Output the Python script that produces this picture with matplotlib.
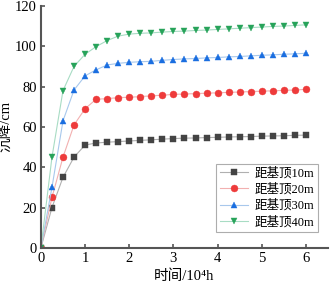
import matplotlib
matplotlib.use("Agg")
import matplotlib.pyplot as plt
import numpy as np

t = [0, 0.25, 0.5, 0.75, 1.0, 1.25, 1.5, 1.75, 2.0, 2.25, 2.5, 2.75, 3.0,
     3.25, 3.5, 3.75, 4.0, 4.25, 4.5, 4.75, 5.0, 5.25, 5.5, 5.75, 6.0]
s10 = [0, 20, 35, 45, 51, 52, 52.4, 52.7, 53, 53.3, 53.6, 53.9, 54.2,
       54.4, 54.5, 54.7, 54.8, 55.0, 55.1, 55.2, 55.4, 55.5, 55.6, 55.8, 55.9]
s20 = [0, 25, 45, 61, 69, 73.7, 74, 74.5, 74.7, 75, 75.4, 75.7, 76.1,
       76.3, 76.5, 76.7, 76.9, 77.1, 77.3, 77.5, 77.7, 77.9, 78.1, 78.3, 78.6]
s30 = [0, 30, 63, 78.3, 85.3, 88.3, 90.7, 91.5, 92, 92.3, 92.5, 93, 93.4,
       93.7, 93.9, 94.2, 94.4, 94.7, 94.9, 95.2, 95.5, 95.7, 96.0, 96.2, 96.5]
s40 = [0, 45, 78, 90, 96, 99.8, 102.8, 105, 106, 106.4, 106.6, 107, 107.3,
       107.5, 107.8, 108.0, 108.3, 108.6, 108.9, 109.2, 109.5, 109.8, 110.0, 110.3, 110.6]
labels = ["距基顶10m", "距基顶20m", "距基顶30m", "距基顶40m"]
xticks = [0, 1, 2, 3, 4, 5, 6]
yticks = [0, 20, 40, 60, 80, 100, 120]

fam = ['Liberation Serif', 'Noto Sans CJK SC', 'DejaVu Sans']
plt.rcParams['font.family'] = fam

fig = plt.figure(figsize=(3.3, 2.93), dpi=100)
ax = fig.add_axes([0.124, 0.154, 0.870, 0.826])

series = [s10, s20, s30, s40]
colors = ['#444444', '#ee3b3b', '#1a6ee0', '#27a35a']
lcolors = ['#b0b0b0', '#f2b0b0', '#a8c8ec', '#a8dcc4']
markers = ['s', 'o', '^', 'v']
for s, c, lc, m, lab in zip(series, colors, lcolors, markers, labels):
    ax.plot(t, s, color=lc, lw=0.8, marker=m, markersize=5,
            markerfacecolor=c, markeredgecolor=c, markeredgewidth=0.3, label=lab)

ax.set_xlim(0, 6.5)
ax.set_ylim(0, 120)
ax.set_xticks(xticks)
ax.set_yticks(yticks)
for sp in ['top', 'right']:
    ax.spines[sp].set_visible(False)
for sp in ['left', 'bottom']:
    ax.spines[sp].set_color('#555555')
    ax.spines[sp].set_linewidth(1.5)
ax.tick_params(direction='in', length=3, width=1.2, color='#555555',
               labelsize=10.5, pad=3)
ax.set_xlabel("时间/10⁴h", fontsize=10.5, labelpad=3)
ax.set_ylabel("沉降/cm", fontsize=10.5, labelpad=1)

leg = ax.legend(loc='lower right', bbox_to_anchor=(0.965, 0.066), fontsize=9,
                frameon=True, fancybox=False, edgecolor='#999999',
                handlelength=2.3, handletextpad=0.5, borderpad=0.3,
                labelspacing=0.3, borderaxespad=0)
leg.get_frame().set_linewidth(0.8)

fig.savefig("out.png", dpi=100)
